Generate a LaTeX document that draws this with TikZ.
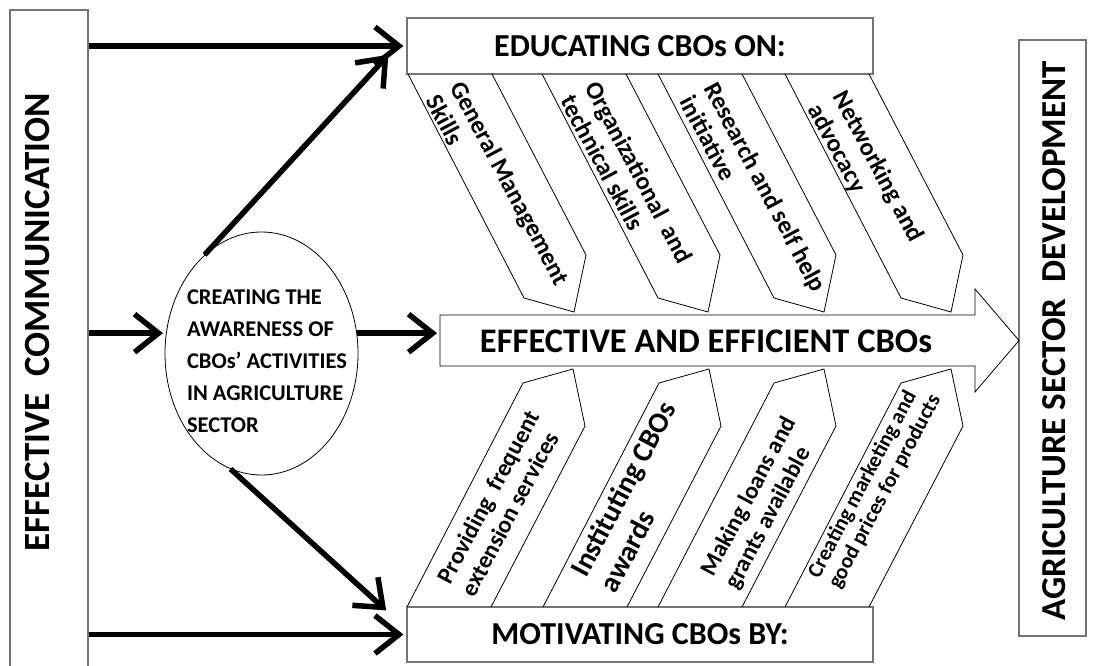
\documentclass[tikz,border=0pt]{standalone}
\usepackage{fontspec}
\setmainfont{Carlito}
\usetikzlibrary{arrows.meta,positioning,shapes.geometric}

\begin{document}
\begin{tikzpicture}[x=1pt,y=-1pt,
  box/.style={draw=black!55,line width=1.2pt,rectangle,inner sep=0pt},
  tab/.style={draw,line width=0.8pt},
  flow/.style={line width=5.5pt,shorten >=3pt,-{Straight Barb[length=24pt,width=38pt]}},
  uptxt/.style={font=\bfseries\fontsize{25}{28}\selectfont,align=left,anchor=west,rotate=-62,inner sep=0pt},
  dntxt/.style={font=\bfseries\fontsize{24}{27}\selectfont,align=left,anchor=west,rotate=62,inner sep=0pt}]
\useasboundingbox (0,0) rectangle (1093,666);

% side boxes
\node[box,minimum width=78pt,minimum height=680pt] (comm) at (49,350) {};
\node[rotate=90,font=\bfseries\fontsize{37}{42}\selectfont] (commtxt) at (38,322) {EFFECTIVE\ \ COMMUNICATION};
\node[box,minimum width=67pt,minimum height=596pt] (agri) at (1052.5,338) {};
\node[rotate=90,font=\bfseries\fontsize{35}{40}\selectfont] (agritxt) at (1054,341) {AGRICULTURE SECTOR\ \ DEVELOPMENT};

% top and bottom boxes
\node[box,minimum width=466pt,minimum height=56pt,font=\bfseries\fontsize{32}{38}\selectfont] (edu) at (640,46) {EDUCATING CBOs ON:};
\node[box,minimum width=466pt,minimum height=55pt,font=\bfseries\fontsize{32}{38}\selectfont] (mot) at (640,634.5) {MOTIVATING CBOs BY:};

% awareness circle
\node[draw,ellipse,line width=0.8pt,minimum width=193pt,minimum height=243pt,inner sep=0pt] (aware) at (261.5,353.5) {};
\node[align=left,inner sep=0pt,font=\bfseries\fontsize{22.5}{32}\selectfont] (awaretxt) at (267,361) {CREATING THE\\AWARENESS OF\\CBOs’ ACTIVITIES\\IN AGRICULTURE\\SECTOR};

% big arrow
\draw[line width=0.8pt] (440,315) -- (975,315) -- (975,289) -- (1019,340.5) -- (975,392) -- (975,366) -- (440,366) -- cycle;
\coordinate (effin) at (440,333);
\node[font=\bfseries\fontsize{34.5}{40}\selectfont] (effcbo) at (706,341) {EFFECTIVE AND EFFICIENT CBOs};

% educating tabs
\draw[tab] (408,74) -- (524,298) -- (574,312) -- (586,255) -- (492,74);
\draw[tab] (542,74) -- (658,298) -- (708,312) -- (720,255) -- (626,74);
\draw[tab] (658,74) -- (774,298) -- (824,312) -- (836,255) -- (742,74);
\draw[tab] (785,74) -- (901,298) -- (951,312) -- (963,255) -- (869,74);
\node[uptxt] (gen) at (445,90) {General Management\\Skills};
\node[uptxt] (org) at (580,90) {Organizational \ and\\technical skills};
\node[uptxt] (res) at (699,91) {Research and self help\\initiative};
\node[uptxt] (net) at (826,100) {Networking and\\advocacy};

% motivating tabs
\draw[tab] (407,607) -- (523,383) -- (573,369) -- (585,426) -- (491,607);
\draw[tab] (543,607) -- (659,383) -- (709,369) -- (721,426) -- (627,607);
\draw[tab] (658,607) -- (774,383) -- (824,369) -- (836,426) -- (742,607);
\draw[tab] (785,607) -- (901,383) -- (951,369) -- (963,426) -- (869,607);
\node[dntxt] (ext) at (455,588) {Providing \ frequent\\extension services};
\node[dntxt,font=\bfseries\fontsize{29}{33}\selectfont] (award) at (592,582) {Instituting CBOs\\awards};
\node[dntxt] (loan) at (720,581) {Making loans and\\grants available};
\node[dntxt,font=\bfseries\fontsize{21.5}{23}\selectfont] (price) at (824,582) {Creating marketing and\\good prices for products};

% thick arrows
\draw[flow] (comm.east |- edu.west) -- (edu.west);
\draw[flow] (comm.east |- mot.west) -- (mot.west);
\draw[flow] (comm.east |- aware.168) -- (aware.168);
\draw[flow] (aware.12) -- (aware.12 -| effin);
\draw[flow] (aware.120) -- ([shift={(-16pt,22pt)}]edu.south west);
\draw[flow] (aware.255) -- ([shift={(-18pt,-6pt)}]mot.north west);
\end{tikzpicture}
\end{document}
